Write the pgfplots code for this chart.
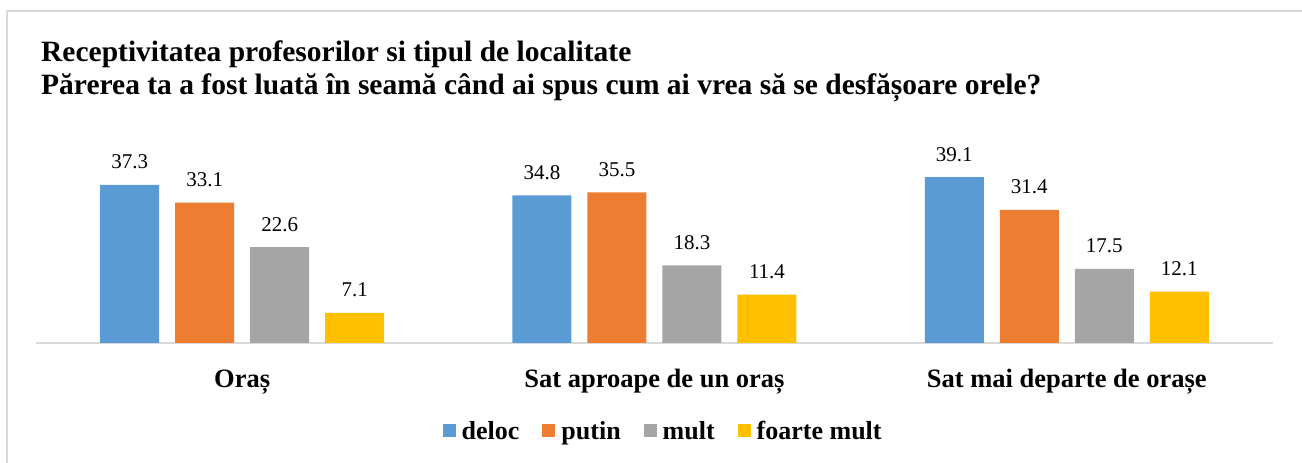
\documentclass[border=0pt]{standalone}
\usepackage{fontspec}
\setmainfont{Liberation Serif}
\usepackage{pgfplots}
\pgfplotsset{compat=1.18}
\definecolor{cblue}{HTML}{5B9BD5}
\definecolor{corange}{HTML}{ED7D31}
\definecolor{cgray}{HTML}{A5A5A5}
\definecolor{cyellow}{HTML}{FFC000}
\definecolor{frame}{HTML}{D9D9D9}
\begin{document}
\begin{tikzpicture}[x=1pt,y=1pt]
\useasboundingbox (0,0) rectangle (1302,463);
\fill[white] (0,0) rectangle (1302,463);
\draw[frame, line width=2pt] (7,-5) |- (1310,452);
\node[anchor=base west, font=\bfseries\fontsize{29.5}{34}\selectfont, inner sep=0pt] at (41,401) {Receptivitatea profesorilor si tipul de localitate};
\node[anchor=base west, font=\bfseries\fontsize{29.5}{34}\selectfont, inner sep=0pt] at (41,368) {Părerea ta a fost luată în seamă când ai spus cum ai vrea să se desfășoare orele?};
\begin{axis}[
  at={(36pt,120pt)}, anchor=south west,
  scale only axis, width=1237pt, height=212pt,
  xmin=-0.5, xmax=2.5, ymin=0, ymax=50,
  ybar=16pt, bar width=59pt,
  axis y line=none,
  axis x line*=bottom,
  x axis line style={draw=frame, line width=1.3pt, -},
  xtick={0,1,2},
  xticklabels={Oraș, Sat aproape de un oraș, Sat mai departe de orașe},
  major tick length=0pt,
  xticklabel style={font=\bfseries\fontsize{26.5}{30}\selectfont, anchor=base, yshift=-45pt},
  /pgf/number format/assume math mode=true,
  nodes near coords,
  nodes near coords style={font=\fontsize{21}{24}\selectfont, color=black, anchor=base, yshift=16pt, inner sep=0pt,
    /pgf/number format/.cd, fixed, precision=1, fixed zerofill, assume math mode=true},
  legend style={at={(0.507,-0.415)}, anchor=center, draw=none, fill=none,
    font=\bfseries\fontsize{26}{30}\selectfont, legend columns=4,
    /tikz/every even column/.append style={column sep=21pt}},
  legend image code/.code={\fill[#1] (0pt,-6pt) rectangle (13pt,7pt); \path (17pt,0pt);},
]
\addplot[fill=cblue, draw=none] coordinates {(0,37.3) (1,34.8) (2,39.1)};
\addplot[fill=corange, draw=none] coordinates {(0,33.1) (1,35.5) (2,31.4)};
\addplot[fill=cgray, draw=none] coordinates {(0,22.6) (1,18.3) (2,17.5)};
\addplot[fill=cyellow, draw=none] coordinates {(0,7.1) (1,11.4) (2,12.1)};
\legend{deloc, putin, mult, foarte mult}
\end{axis}
\end{tikzpicture}
\end{document}
